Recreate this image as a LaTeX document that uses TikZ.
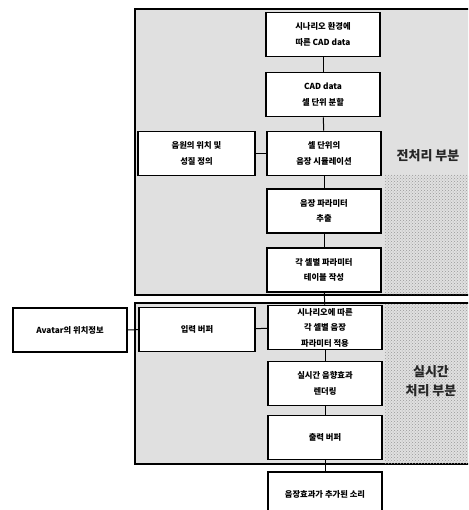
\documentclass[tikz,border=0pt]{standalone}
\usepackage{fontspec}
\setmainfont{Noto Sans CJK KR}
\usetikzlibrary{patterns}
\begin{document}
\begin{tikzpicture}[x=1pt,y=-1pt,
  box/.style={draw=black,line width=1.6pt,fill=white,align=center,
    minimum width=114pt,minimum height=44pt,inner sep=1pt,
    font=\fontsize{8.3}{15.5}\selectfont\bfseries},
  region/.style={draw=black,line width=1.6pt,fill=black!12},
  link/.style={draw=black,line width=1pt},
  tag/.style={font=\fontsize{13}{19}\selectfont\bfseries,align=center,text=black!85}]
\useasboundingbox (0,0) rectangle (468,510);
\clip (0,0) rectangle (468,510);
\fill[white] (0,0) rectangle (468,510);
% regions
\path[region] (135,9) rectangle (478,295);
\path[region] (135,303) rectangle (478,464);
\fill[pattern=crosshatch dots,pattern color=black!40] (385,175) rectangle (468,294);
\fill[pattern=crosshatch dots,pattern color=black!40] (385,304) rectangle (468,463);
% nodes
\node[box] (b1) at (323,34.5) {시나리오 환경에\\따른 CAD data};
\node[box] (b2) at (323,94.5) {CAD data\\셀 단위 분할};
\node[box] (b3) at (324,153.5) {셀 단위의\\음장 시뮬레이션};
\node[box,minimum width=117pt] (b4) at (196.5,153.5) {음원의 위치 및\\성질 정의};
\node[box] (b5) at (324,211) {음장 파라미터\\추출};
\node[box] (b6) at (324,270) {각 셀별 파라미터\\테이블 작성};
\node[box] (b7) at (325,327.5) {시나리오에 따른\\각 셀별 음장\\파라미터 적용};
\node[box,minimum width=116pt] (b8) at (197,329.5) {입력 버퍼};
\node[box] (av) at (70,330) {Avatar의 위치정보};
\node[box] (b10) at (325,383.5) {실시간 음향효과\\렌더링};
\node[box] (b11) at (325,437.5) {출력 버퍼};
\node[box] (b12) at (325,494) {음장효과가 추가된 소리};
% labels
\node[tag] (t1) at (428,156) {전처리 부분};
\node[tag] (t2) at (431,381) {실시간\\처리 부분};
% links
\draw[link] (b1) -- (b2);
\draw[link] (b2) -- (b3);
\draw[link] (b3) -- (b5);
\draw[link] (b5) -- (b6);
\draw[link] (b6) -- (b7);
\draw[link] (b7) -- (b10);
\draw[link] (b10) -- (b11);
\draw[link] (b11) -- (b12);
\draw[link] (b4) -- (b3);
\draw[link] (b8) -- (b7);
\draw[link] (av) -- (b8);
\end{tikzpicture}
\end{document}
